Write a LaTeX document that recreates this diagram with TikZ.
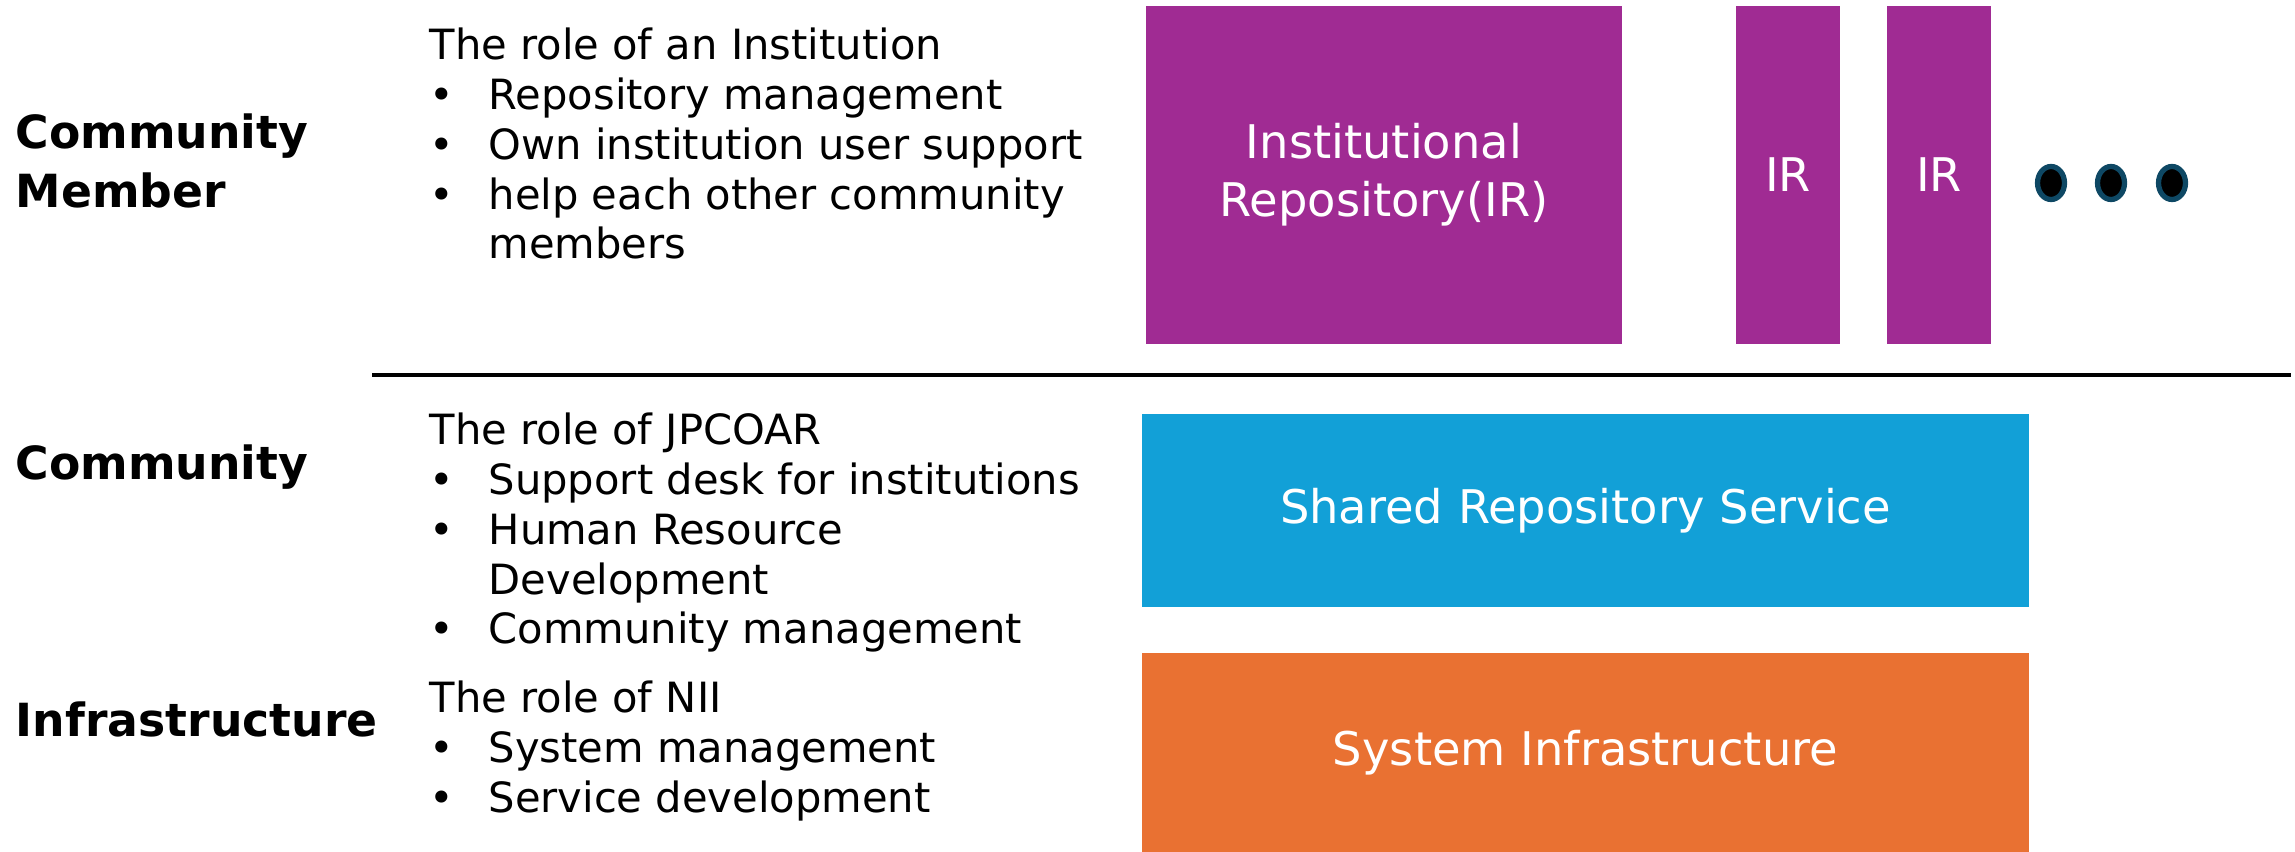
\documentclass[tikz,border=0pt]{standalone}
\usepackage{fontspec}
\setmainfont{DejaVu Sans}
\usepackage{tikz}
\usetikzlibrary{shapes,positioning}
\usepackage{xcolor}
\definecolor{irpurple}{RGB}{160,43,147}
\definecolor{srsblue}{RGB}{18,160,215}
\definecolor{sysorange}{RGB}{233,113,50}
\definecolor{dotblue}{RGB}{14,72,100}
\tikzstyle{irbox} = [rectangle, minimum height=3.38cm, text centered, fill=irpurple, text=white, font=\fontsize{13.2}{16.6}\selectfont, inner sep=0pt]
\tikzstyle{layerbox} = [rectangle, minimum width=8.87cm, text centered, text=white, font=\fontsize{13.2}{16.6}\selectfont, inner sep=0pt]
\tikzstyle{dotmark} = [ellipse, minimum width=0.27cm, minimum height=0.33cm, fill=black, draw=dotblue, line width=1.5pt, inner sep=0pt]
\tikzstyle{layerlabel} = [anchor=west, align=left, font=\bfseries\fontsize{13}{16.6}\selectfont, inner sep=0pt]
\tikzstyle{roletext} = [anchor=north west, align=left, font=\fontsize{11.85}{14.2}\selectfont, inner sep=0pt]
\newcommand{\roleitem}[1]{\makebox[0.59cm][l]{\textbullet}#1}

\begin{document}
\begin{tikzpicture}
\useasboundingbox (0,0) rectangle (22.95,-8.52);
% Community members
\node (irbig) [irbox, minimum width=4.76cm, align=center] at (13.84,-1.75) {Institutional\\Repository(IR)};
\node (irone) [irbox, minimum width=1.04cm, right of=irbig, node distance=4.04cm] {IR};
\node (irtwo) [irbox, minimum width=1.04cm, right of=irone, node distance=1.51cm] {IR};
\node (dotone) [dotmark] at (20.51,-1.83) {};
\node (dottwo) [dotmark, right of=dotone, node distance=0.60cm] {};
\node (dotthree) [dotmark, right of=dottwo, node distance=0.61cm] {};

% Separator
\coordinate (sepleft) at (3.72,-3.75);
\coordinate (sepright) at (22.91,-3.75);
\draw[line width=1.1pt] (sepleft) -- (sepright);

% Shared layers
\node (srs) [layerbox, fill=srsblue, minimum height=1.93cm] at (15.855,-5.105) {Shared Repository Service};
\node (sysinfra) [layerbox, fill=sysorange, minimum height=1.99cm, below of=srs, node distance=2.42cm] {System Infrastructure};

% Layer labels
\node (lblmember) [layerlabel] at (0.15,-1.61) {Community\\Member};
\node (lblcommunity) [layerlabel] at (0.15,-4.67) {Community};
\node (lblinfra) [layerlabel] at (0.15,-7.19) {Infrastructure};

% Roles
\node (roleinst) [roletext] at (4.29,-0.27) {The role of an Institution\\
  \roleitem{Repository management}\\
  \roleitem{Own institution user support}\\
  \roleitem{help each other community}\\
  \hspace*{0.59cm}members};
\node (rolejpcoar) [roletext] at (4.29,-4.12) {The role of JPCOAR\\
  \roleitem{Support desk for institutions}\\
  \roleitem{Human Resource}\\
  \hspace*{0.59cm}Development\\
  \roleitem{Community management}};
\node (rolenii) [roletext] at (4.29,-6.80) {The role of NII\\
  \roleitem{System management}\\
  \roleitem{Service development}};
\end{tikzpicture}
\end{document}
